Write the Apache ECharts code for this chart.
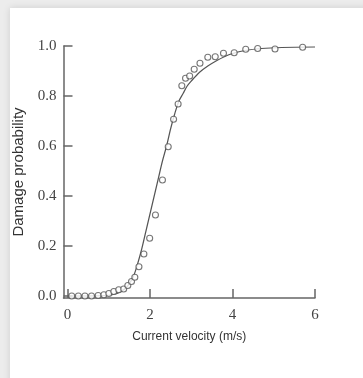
<!DOCTYPE html>
<html>
<head>
<meta charset="utf-8">
<script src="https://cdn.jsdelivr.net/npm/echarts@6/dist/echarts.min.js"></script>
<style>
  html, body { margin: 0; padding: 0; width: 363px; height: 378px; overflow: hidden; background: #ececec; }
  #card { position: absolute; left: 10px; top: 8px; width: 360px; height: 380px; background: #fff;
          box-shadow: 0 0 7px rgba(0,0,0,0.13); }
  #chart { position: absolute; left: 0; top: 0; width: 363px; height: 378px; }
</style>
</head>
<body>
<div id="card"></div>
<div id="chart"></div>
<script>
// Observed damage fraction at each current velocity (m/s)
const obsVelocity = [0.10, 0.26, 0.42, 0.58, 0.74, 0.88, 1.00, 1.12, 1.24, 1.36, 1.46, 1.55, 1.63,
  1.73, 1.85, 1.99, 2.13, 2.30, 2.44, 2.57, 2.68, 2.77, 2.86, 2.96, 3.07, 3.21, 3.40, 3.58, 3.78,
  4.04, 4.32, 4.61, 5.03, 5.70];
const obsProbability = [0.0, 0.0, 0.0, 0.0, 0.002, 0.005, 0.01, 0.018, 0.025, 0.028, 0.042, 0.058, 0.075,
  0.117, 0.168, 0.231, 0.324, 0.464, 0.597, 0.707, 0.768, 0.841, 0.871, 0.88, 0.907, 0.931, 0.955, 0.957, 0.971,
  0.973, 0.987, 0.99, 0.988, 0.995];

// Fitted fragility curve
const fitVelocity = [0, 0.5, 1.0, 1.2, 1.4, 1.5, 1.6, 1.7, 1.8, 1.9, 2.0, 2.1, 2.2, 2.3, 2.4, 2.5, 2.6,
  2.7, 2.8, 2.9, 3.0, 3.2, 3.4, 3.6, 3.8, 4.0, 4.3, 4.7, 5.2, 6.0];
const fitProbability = [0, 0, 0.003, 0.01, 0.03, 0.05, 0.08, 0.13, 0.19, 0.26, 0.33, 0.40, 0.47, 0.54,
  0.60, 0.67, 0.73, 0.78, 0.81, 0.84, 0.86, 0.895, 0.92, 0.94, 0.957, 0.97, 0.982, 0.99, 0.994, 0.996];

const xTicks = [0, 2, 4, 6];
const yTicks = [0, 0.2, 0.4, 0.6, 0.8, 1.0];

const axisColor = '#666';
const inkColor = '#555';
const labelFont = { color: '#444', fontFamily: 'Liberation Serif', fontSize: 15 };

const chart = echarts.init(document.getElementById('chart'), null, { renderer: 'canvas' });
chart.setOption({
  animation: false,
  backgroundColor: 'transparent',
  grid: { left: 63.5, right: 48, top: 46, bottom: 80 },
  xAxis: {
    type: 'value', min: -0.1, max: 6,
    name: 'Current velocity (m/s)', nameLocation: 'middle', nameGap: 33,
    nameTextStyle: { color: '#333', fontFamily: 'Liberation Sans', fontSize: 12 },
    axisLine: { onZero: false, lineStyle: { color: axisColor, width: 1.5 } },
    axisTick: { inside: true, length: 9, customValues: xTicks, lineStyle: { color: axisColor, width: 1.5 } },
    axisLabel: Object.assign({ customValues: xTicks, margin: 10 }, labelFont),
    splitLine: { show: false }
  },
  yAxis: {
    type: 'value', min: -0.008, max: 1,
    name: 'Damage probability', nameLocation: 'middle', nameGap: 33,
    nameTextStyle: { color: '#333', fontFamily: 'Liberation Sans', fontSize: 15 },
    axisLine: { onZero: false, lineStyle: { color: axisColor, width: 1.5 } },
    axisTick: { inside: true, length: 9, customValues: yTicks, lineStyle: { color: axisColor, width: 1.5 } },
    axisLabel: Object.assign({ customValues: yTicks, margin: 7, formatter: v => v.toFixed(1) }, labelFont),
    splitLine: { show: false }
  },
  series: [
    {
      type: 'line',
      data: fitVelocity.map((v, i) => [v, fitProbability[i]]),
      smooth: 0.3, showSymbol: false,
      lineStyle: { color: inkColor, width: 1.2 },
      z: 2
    },
    {
      type: 'scatter',
      data: obsVelocity.map((v, i) => [v, obsProbability[i]]),
      symbol: 'circle', symbolSize: 6,
      itemStyle: { color: '#fff', borderColor: inkColor, borderWidth: 1.1 },
      z: 3
    }
  ]
});
</script>
</body>
</html>
